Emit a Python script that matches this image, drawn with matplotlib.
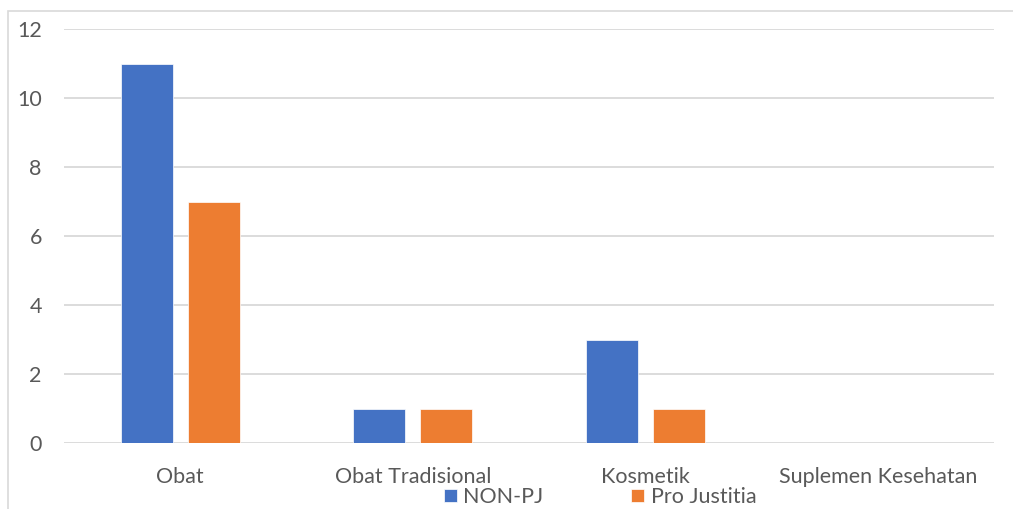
import numpy as np
import matplotlib.pyplot as plt
from matplotlib.patches import Rectangle

categories = ['Obat', 'Obat Tradisional', 'Kosmetik', 'Suplemen Kesehatan']
non_pj = [11, 1, 3, 0]
pro_justitia = [7, 1, 1, 0]
series_names = ['NON-PJ', 'Pro Justitia']

BLUE = '#4472C4'
ORANGE = '#ED7D31'
TEXT = '#595959'
GRID = '#D9D9D9'

plt.rcParams['font.family'] = ['Lato', 'DejaVu Sans']

fig = plt.figure(figsize=(10.13, 5.09), dpi=100)
ax = fig.add_axes([64 / 1013, 1 - 443 / 509, 930 / 1013, 414 / 509])

x = np.arange(len(categories))
width = 0.224
offset = 0.144
ax.bar(x - offset, non_pj, width, color=BLUE, edgecolor='white', linewidth=0.5,
       label=series_names[0], zorder=3)
ax.bar(x + offset, pro_justitia, width, color=ORANGE, edgecolor='white', linewidth=0.5,
       label=series_names[1], zorder=3)

ax.set_xlim(-0.5, len(categories) - 0.5)
ax.set_ylim(0, 12)
ax.set_yticks(range(0, 13, 2))
ax.set_xticks(x)
ax.set_xticklabels(categories)
ax.yaxis.grid(True, color=GRID, linewidth=1.3, zorder=0)
for s in ax.spines.values():
    s.set_visible(False)
ax.tick_params(length=0, labelsize=15.5, colors=TEXT)
ax.tick_params(axis='y', pad=16)
ax.tick_params(axis='x', pad=17)

# outer chart frame (partly cropped in the reference)
fig.patches.append(Rectangle((8 / 1013, -0.1), 1.2, 1 - 11 / 509 + 0.1,
                             transform=fig.transFigure, fill=False,
                             edgecolor=GRID, linewidth=1.2))

handles, labels = ax.get_legend_handles_labels()
fig.legend(handles, labels, loc='center', bbox_to_anchor=(600 / 1013, 1 - 497 / 509),
           ncol=2, frameon=False, fontsize=15.5, labelcolor=TEXT,
           handlelength=0.6, handleheight=0.6, handletextpad=0.3,
           columnspacing=4.1, borderpad=0)

fig.savefig('out.png', dpi=100)
